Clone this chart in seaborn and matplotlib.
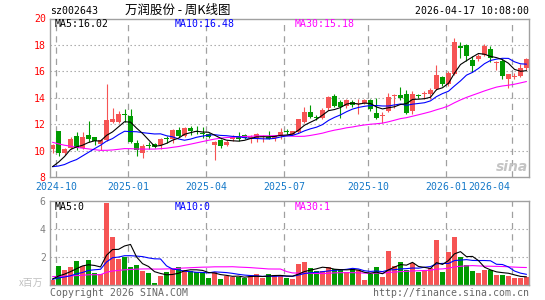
import numpy as np
import pandas as pd
import matplotlib
matplotlib.use('Agg')
import matplotlib.pyplot as plt
import seaborn as sns

# 万润股份 周K线, 一周一根 (2024-09-30 那周 ~ 2026-04-17 那周)
open_ = [10.10, 11.48, 9.80, 10.17, 11.10, 10.17, 11.18, 11.00, 10.50, 10.80,
         12.20, 12.14, 12.75, 12.62, 10.55, 9.80, 10.42, 10.48, 10.42, 10.95,
         10.86, 11.56, 11.10, 11.73, 11.46, 11.36, 11.28, 10.45, 10.83, 10.45,
         10.86, 11.03, 11.15, 10.95, 10.95, 11.00, 11.03, 10.95, 11.08, 11.46,
         11.20, 11.41, 12.16, 12.92, 12.55, 12.50, 13.20, 14.14, 13.71, 13.38,
         13.70, 13.50, 13.63, 13.80, 12.87, 12.65, 13.00, 14.12, 14.19, 14.26,
         13.00, 14.20, 14.25, 14.30, 14.64, 15.57, 15.02, 15.80, 17.90, 18.00,
         16.84, 16.91, 17.24, 17.67, 16.60, 16.79, 15.40, 15.55, 15.65, 16.28]
high = [10.50, 11.50, 10.20, 11.00, 11.40, 11.40, 12.25, 11.05, 10.90, 15.05,
        13.25, 12.98, 13.15, 13.15, 10.80, 10.50, 10.67, 10.58, 10.95, 11.10,
        11.60, 11.80, 11.80, 11.85, 11.86, 11.79, 11.35, 10.70, 10.90, 10.83,
        11.20, 11.41, 11.28, 11.15, 11.36, 11.20, 11.48, 11.20, 11.73, 11.66,
        11.50, 12.40, 13.30, 13.45, 12.70, 13.20, 14.15, 14.26, 13.80, 13.90,
        13.81, 13.90, 13.88, 13.88, 14.00, 12.90, 14.33, 14.26, 14.82, 14.60,
        14.50, 14.30, 14.50, 14.75, 16.48, 15.65, 16.05, 18.55, 18.20, 18.10,
        17.17, 17.35, 18.10, 17.90, 16.79, 16.90, 15.78, 15.85, 16.55, 17.00]
low = [9.85, 9.60, 9.65, 10.10, 10.05, 10.10, 10.65, 10.45, 10.05, 10.75,
       12.10, 12.10, 12.20, 10.60, 9.60, 9.45, 10.10, 10.20, 10.10, 10.60,
       10.60, 11.05, 11.00, 11.20, 11.28, 10.95, 10.95, 9.31, 10.22, 10.35,
       10.70, 10.70, 10.85, 10.60, 10.65, 10.65, 10.85, 10.70, 10.90, 11.23,
       11.15, 11.30, 12.10, 12.44, 12.30, 12.40, 13.10, 13.30, 12.44, 13.20,
       13.30, 12.80, 13.55, 13.00, 12.40, 12.10, 12.95, 13.26, 13.80, 12.75,
       12.80, 14.00, 13.90, 13.90, 14.55, 14.90, 14.90, 15.70, 17.04, 16.80,
       15.98, 16.80, 17.15, 16.70, 16.10, 15.40, 14.72, 15.45, 15.55, 16.10]
close = [10.42, 9.80, 10.12, 10.88, 10.17, 11.05, 10.85, 10.75, 10.80, 12.30,
         12.37, 12.77, 12.68, 10.65, 10.04, 10.37, 10.35, 10.25, 10.90, 10.87,
         11.56, 11.12, 11.73, 11.50, 11.42, 11.26, 11.03, 10.65, 10.35, 10.65,
         11.03, 10.90, 10.95, 11.02, 11.28, 11.08, 10.90, 11.08, 11.41, 11.42,
         11.46, 12.36, 12.95, 12.55, 12.50, 13.05, 14.06, 13.38, 13.30, 13.81,
         13.45, 13.62, 13.80, 13.13, 12.50, 12.72, 14.06, 14.18, 14.00, 12.82,
         14.31, 14.15, 14.36, 14.55, 15.70, 15.02, 15.85, 18.20, 17.80, 17.17,
         16.41, 17.17, 17.92, 16.99, 16.70, 15.65, 15.78, 15.62, 16.28, 16.92]
volume = [0.38, 1.40, 1.09, 1.31, 1.74, 1.38, 1.81, 0.85, 0.78, 5.90,
          3.43, 1.88, 2.05, 1.33, 1.45, 1.02, 0.88, 0.19, 0.69, 0.97,
          1.14, 1.31, 1.09, 1.02, 0.97, 0.93, 0.55, 0.93, 0.45, 0.69,
          0.59, 0.62, 0.55, 0.69, 0.78, 0.50, 0.78, 0.74, 0.74, 0.55,
          0.45, 1.52, 1.66, 1.24, 1.02, 1.02, 1.31, 1.16, 1.09, 0.93,
          1.16, 1.07, 0.38, 0.78, 1.31, 0.59, 2.45, 1.38, 1.66, 1.12,
          1.59, 0.97, 1.07, 1.24, 3.24, 0.93, 2.38, 3.45, 2.02, 1.45,
          1.02, 0.88, 1.09, 1.07, 0.74, 0.74, 0.66, 0.52, 0.52, 0.59]

# 窗口之前的周收盘/成交量, 只用来让均线从第一根就有值
prior_close = [13.4, 13.2, 13.0, 12.9, 12.8, 12.6, 12.5, 12.3, 12.2,
               11.6, 11.3, 11.0, 10.9, 10.7, 10.6, 10.4, 10.2, 10.0, 9.8, 9.6,
               9.3, 9.0, 8.8, 8.5, 8.3, 8.1, 8.0, 8.2, 9.2]
prior_volume = [0.90, 0.85, 0.80, 0.80, 0.75, 0.75, 0.70, 0.70, 0.70,
                0.70, 0.70, 0.70, 0.68, 0.68, 0.68, 0.66, 0.66, 0.66, 0.64, 0.64,
                0.45, 0.42, 0.40, 0.40, 0.38, 0.35, 0.40, 0.42, 0.70]

month_idx = [1, 13, 26, 39, 53, 66, 77]
month_lbl = ['2024-10', '2025-01', '2025-04', '2025-07', '2025-10', '2026-01', '2026-04']

price_ticks = [8, 10, 12, 14, 16, 18, 20]
vol_ticks = [2, 4, 6]
ma_text = ['MA5:16.02', 'MA10:16.48', 'MA30:15.18']
vol_ma_text = ['MA5:0', 'MA10:0', 'MA30:1']

RED = '#f65454'
GREEN = '#009a00'
GRID = '#a0a0a0'
FRAME = '#a0a0a0'
MA_COLORS = ['black', '#0000ff', '#ff00ff']

sns.set_style('white')
plt.rcParams['font.family'] = ['DejaVu Sans Mono', 'Noto Sans CJK SC']
plt.rcParams['font.size'] = 7.1

W, H = 545, 300


def rect(l, t, r, b):
    return [l / W, 1 - b / H, (r - l) / W, (b - t) / H]


def ftext(x, y, s, **kw):
    fig.text(x / W, 1 - y / H, s, va='center', **kw)


def moving_avg(prior, values, n):
    s = pd.Series(list(prior) + list(values))
    return s.rolling(n).mean().to_numpy()[len(prior):]


o = np.array(open_)
c = np.array(close)
idx = np.arange(len(c))
colors = np.where(c >= o, RED, GREEN)
vlines_x = [m - 0.42 for m in month_idx]

fig = plt.figure(figsize=(W / 100, H / 100), dpi=100)
ax = fig.add_axes(rect(50, 18.5, 529, 177))
axv = fig.add_axes(rect(50, 201.3, 529, 285.3))

# ---- 价格 ----
for y in price_ticks[1:-1]:
    ax.axhline(y, color=GRID, lw=0.8, dashes=(1.2, 2.4), zorder=0)
for x in vlines_x:
    ax.axvline(x, color=GRID, lw=0.9, dashes=(5, 4), zorder=0)

ax.vlines(idx, low, high, colors=colors, lw=0.8, zorder=2)
ax.bar(idx, np.maximum(np.abs(c - o), 0.04), bottom=np.minimum(o, c),
       width=0.83, color=colors, linewidth=0, zorder=2)

for n, col in zip([30, 10, 5], MA_COLORS[::-1]):
    sns.lineplot(x=idx, y=moving_avg(prior_close, close, n), ax=ax,
                 color=col, lw=0.8, legend=False, zorder=3)

ax.set_xlim(-0.42, 79.42)
ax.set_ylim(8, 20)
ax.set_yticks(price_ticks)
ax.set_yticklabels([str(t) for t in price_ticks], color='#ff0000')
ax.set_xticks([])
ax.set_xlabel('')
ax.set_ylabel('')
ax.tick_params(axis='y', length=0, pad=3)

for k, (x, lbl) in enumerate(zip(vlines_x, month_lbl)):
    last = k == len(month_lbl) - 1
    ax.text(x - 0.2 if last else x, -0.066, lbl,
            transform=ax.get_xaxis_transform(),
            ha='right' if last else 'center', va='center', color='#1478c8')

# ---- 成交量 ----
for y in vol_ticks[:-1]:
    axv.axhline(y, color=GRID, lw=0.8, dashes=(1.2, 2.4), zorder=0)
for x in vlines_x:
    axv.axvline(x, color=GRID, lw=0.9, dashes=(5, 4), zorder=0)

axv.bar(idx, volume, width=0.83, color=colors, linewidth=0, zorder=2)
for n, col in zip([30, 10, 5], MA_COLORS[::-1]):
    sns.lineplot(x=idx, y=moving_avg(prior_volume, volume, n), ax=axv,
                 color=col, lw=0.8, legend=False, zorder=3)

axv.set_xlim(-0.42, 79.42)
axv.set_ylim(0, 6)
axv.set_yticks(vol_ticks)
axv.set_yticklabels([str(t) for t in vol_ticks], color='#808080')
axv.set_xticks([])
axv.set_xlabel('')
axv.set_ylabel('')
axv.tick_params(axis='y', length=0, pad=3)

for a in (ax, axv):
    for sp in a.spines.values():
        sp.set_color(FRAME)
        sp.set_linewidth(1.0)

# ---- 文字 ----
ftext(50, 11, 'sz002643', color='black')
ftext(177.5, 10.5, '万润股份 - 周K线图', ha='center', color='black',
      family=['Noto Sans CJK SC'], fontsize=9)
ftext(529, 11, '2026-04-17 10:08:00', ha='right', color='black')

for x, s, col in zip([55, 174.3, 295], ma_text, MA_COLORS):
    ftext(x, 24, s, color=col)
for x, s, col in zip([55, 174.3, 295], vol_ma_text, MA_COLORS):
    ftext(x, 207, s, color=col)

ftext(43, 283, 'x百万', ha='right', color='#c0c0c0',
      family=['Noto Sans CJK SC', 'DejaVu Sans'], fontsize=7)
ftext(50, 293, 'Copyright 2026 SINA.COM', color='#666666')
ftext(529, 293, 'http://finance.sina.com.cn', ha='right', color='#666666')
ftext(512, 167, 'sina', ha='center', color='#c4c4c4', fontsize=10,
      fontweight='bold', fontstyle='italic', family=['DejaVu Sans'])

fig.savefig('out.png', dpi=100)
